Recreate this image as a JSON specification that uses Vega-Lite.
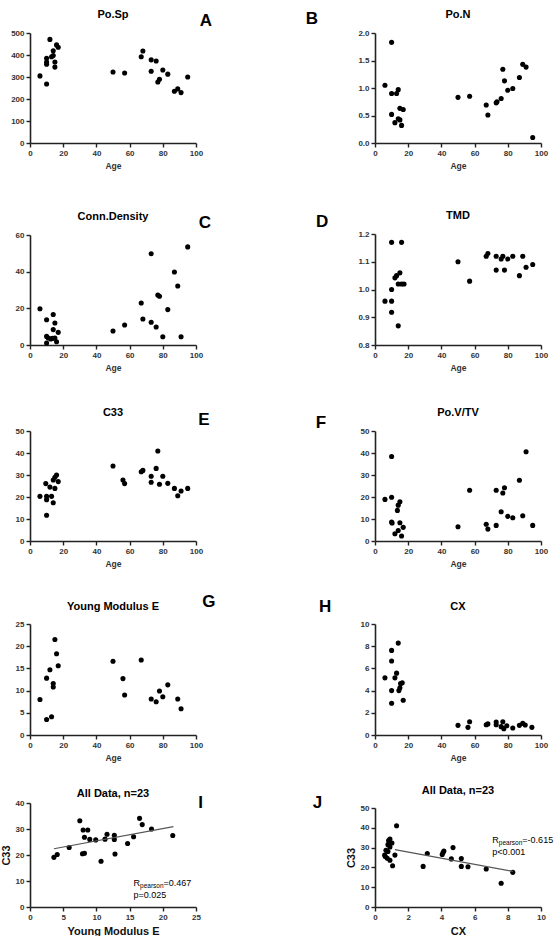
{
  "$schema": "https://vega.github.io/schema/vega-lite/v6.json",
  "background": "white",
  "padding": {"left": 0, "top": 8, "right": 0, "bottom": 0},
  "config": {
    "font": "Liberation Sans",
    "view": {"stroke": null},
    "axis": {
      "grid": false,
      "domainColor": "#222",
      "domainWidth": 1.6,
      "tickColor": "#222",
      "tickWidth": 1.4,
      "tickSize": 4,
      "tickCount": 12,
      "labelFont": "Liberation Sans",
      "labelFontSize": 8,
      "labelFontWeight": "bold",
      "labelColor": "#333",
      "labelPadding": 2,
      "labelOverlap": false,
      "labelFlush": false,
      "titleFont": "Liberation Sans",
      "titleFontSize": 8.5,
      "titleFontWeight": "bold",
      "titleColor": "#333",
      "titlePadding": 4
    },
    "circle": {"size": 26, "color": "black", "opacity": 1},
    "style": {
      "panelTitle": {"font": "Liberation Sans", "fontSize": 11, "fontWeight": "bold", "fill": "#333", "align": "center", "baseline": "middle"},
      "panelLetter": {"font": "Liberation Sans", "fontSize": 17, "fontWeight": "bold", "fill": "#111", "align": "center", "baseline": "middle"},
      "stat": {"font": "Liberation Sans", "fontSize": 9, "fill": "#555", "align": "left", "baseline": "middle"},
      "statSub": {"font": "Liberation Sans", "fontSize": 6.5, "fill": "#555", "align": "left", "baseline": "middle"}
    }
  },
  "columns": 2,
  "spacing": {"row": 68, "column": 179},
  "bounds": "flush",
  "concat": [
    {
      "width": 166, "height": 110,
      "layer": [
        {
          "data": {"values": [
            {"age": 6, "value": 305}, {"age": 10, "value": 268}, {"age": 10, "value": 358}, {"age": 10, "value": 368},
            {"age": 10, "value": 385}, {"age": 12, "value": 471}, {"age": 13, "value": 392}, {"age": 14, "value": 419},
            {"age": 14, "value": 398}, {"age": 15, "value": 368}, {"age": 15, "value": 345}, {"age": 16, "value": 446},
            {"age": 17, "value": 435}, {"age": 50, "value": 323}, {"age": 57, "value": 318}, {"age": 67, "value": 392},
            {"age": 68, "value": 418}, {"age": 73, "value": 378}, {"age": 73, "value": 326}, {"age": 76, "value": 373},
            {"age": 77, "value": 277}, {"age": 78, "value": 290}, {"age": 80, "value": 332}, {"age": 83, "value": 313},
            {"age": 87, "value": 235}, {"age": 89, "value": 246}, {"age": 91, "value": 229}, {"age": 95, "value": 300}
          ]},
          "mark": "circle",
          "encoding": {
            "x": {"field": "age", "type": "quantitative", "scale": {"domain": [0, 100], "nice": false}, "axis": {"title": "Age", "values": [0, 20, 40, 60, 80, 100], "tickCount": 12}},
            "y": {"field": "value", "type": "quantitative", "scale": {"domain": [0, 500], "nice": false}, "axis": {"title": null, "values": [0, 100, 200, 300, 400, 500], "tickCount": 12}}
          }
        },
        {"data": {"values": [{}]}, "mark": {"type": "text", "text": "Po.Sp", "style": "panelTitle"}, "encoding": {"x": {"datum": 50}, "y": {"datum": 582}}},
        {"data": {"values": [{}]}, "mark": {"type": "text", "text": "A", "style": "panelLetter"}, "encoding": {"x": {"datum": 106}, "y": {"datum": 554}}}
      ]
    },
    {
      "width": 166, "height": 110,
      "layer": [
        {
          "data": {"values": [
            {"age": 6, "value": 1.05}, {"age": 10, "value": 1.83}, {"age": 10, "value": 0.9}, {"age": 10, "value": 0.52},
            {"age": 12, "value": 0.37}, {"age": 13, "value": 0.9}, {"age": 14, "value": 0.97}, {"age": 14, "value": 0.44},
            {"age": 15, "value": 0.42}, {"age": 15, "value": 0.63}, {"age": 16, "value": 0.32}, {"age": 17, "value": 0.61},
            {"age": 50, "value": 0.83}, {"age": 57, "value": 0.85}, {"age": 67, "value": 0.69}, {"age": 68, "value": 0.51},
            {"age": 73, "value": 0.73}, {"age": 73.5, "value": 0.75}, {"age": 76, "value": 0.81}, {"age": 77, "value": 1.34},
            {"age": 78, "value": 1.13}, {"age": 80, "value": 0.96}, {"age": 83, "value": 0.99}, {"age": 87, "value": 1.19},
            {"age": 89, "value": 1.43}, {"age": 91, "value": 1.38}, {"age": 95, "value": 0.1}
          ]},
          "mark": "circle",
          "encoding": {
            "x": {"field": "age", "type": "quantitative", "scale": {"domain": [0, 100], "nice": false}, "axis": {"title": "Age", "values": [0, 20, 40, 60, 80, 100], "tickCount": 12}},
            "y": {"field": "value", "type": "quantitative", "scale": {"domain": [0, 2], "nice": false}, "axis": {"title": null, "values": [0, 0.5, 1, 1.5, 2], "format": ".1f", "tickCount": 12}}
          }
        },
        {"data": {"values": [{}]}, "mark": {"type": "text", "text": "Po.N", "style": "panelTitle"}, "encoding": {"x": {"datum": 50}, "y": {"datum": 2.33}}},
        {"data": {"values": [{}]}, "mark": {"type": "text", "text": "B", "style": "panelLetter"}, "encoding": {"x": {"datum": -38}, "y": {"datum": 2.255}}}
      ]
    },
    {
      "width": 166, "height": 134,
      "layer": [
        {
          "data": {"values": [
            {"age": 6, "value": 19.8}, {"age": 10, "value": 13.8}, {"age": 10, "value": 4.7}, {"age": 10, "value": 1.1},
            {"age": 11, "value": 3.8}, {"age": 12.5, "value": 3.3}, {"age": 13.5, "value": 3.6}, {"age": 14, "value": 16.6},
            {"age": 14, "value": 8.4}, {"age": 15, "value": 12}, {"age": 15, "value": 3.8}, {"age": 16, "value": 1.8},
            {"age": 17, "value": 6.9}, {"age": 50, "value": 7.6}, {"age": 57, "value": 10.9}, {"age": 67, "value": 22.9},
            {"age": 68, "value": 14.2}, {"age": 73, "value": 49.8}, {"age": 73, "value": 12.4}, {"age": 76, "value": 9.8},
            {"age": 77, "value": 27.3}, {"age": 78, "value": 26.6}, {"age": 80, "value": 4.5}, {"age": 83, "value": 19.3},
            {"age": 87, "value": 39.8}, {"age": 89, "value": 32.2}, {"age": 91, "value": 4.5}, {"age": 95, "value": 53.5}
          ]},
          "mark": "circle",
          "encoding": {
            "x": {"field": "age", "type": "quantitative", "scale": {"domain": [0, 100], "nice": false}, "axis": {"title": "Age", "values": [0, 20, 40, 60, 80, 100], "tickCount": 12}},
            "y": {"field": "value", "type": "quantitative", "scale": {"domain": [0, 60], "nice": false, "range": [134, 24]}, "axis": {"title": null, "values": [0, 20, 40, 60], "tickCount": 12}}
          }
        },
        {"data": {"values": [{}]}, "mark": {"type": "text", "text": "Conn.Density", "style": "panelTitle"}, "encoding": {"x": {"datum": 50}, "y": {"datum": 69.8}}},
        {"data": {"values": [{}]}, "mark": {"type": "text", "text": "C", "style": "panelLetter"}, "encoding": {"x": {"datum": 105.4}, "y": {"datum": 66.5}}}
      ]
    },
    {
      "width": 166, "height": 134,
      "layer": [
        {
          "data": {"values": [
            {"age": 6, "value": 0.958}, {"age": 10, "value": 1.17}, {"age": 10, "value": 1.0}, {"age": 10, "value": 0.958},
            {"age": 10, "value": 0.918}, {"age": 12, "value": 1.042}, {"age": 13, "value": 1.05}, {"age": 14, "value": 0.869},
            {"age": 15, "value": 1.06}, {"age": 14, "value": 1.02}, {"age": 16, "value": 1.02}, {"age": 16, "value": 1.17},
            {"age": 17.5, "value": 1.02}, {"age": 50, "value": 1.1}, {"age": 57, "value": 1.03}, {"age": 67, "value": 1.12},
            {"age": 68, "value": 1.13}, {"age": 73, "value": 1.12}, {"age": 73, "value": 1.07}, {"age": 76, "value": 1.11},
            {"age": 77, "value": 1.12}, {"age": 78, "value": 1.07}, {"age": 80, "value": 1.11}, {"age": 83, "value": 1.12},
            {"age": 87, "value": 1.05}, {"age": 89, "value": 1.12}, {"age": 91, "value": 1.08}, {"age": 95, "value": 1.09}
          ]},
          "mark": "circle",
          "encoding": {
            "x": {"field": "age", "type": "quantitative", "scale": {"domain": [0, 100], "nice": false}, "axis": {"title": "Age", "values": [0, 20, 40, 60, 80, 100], "tickCount": 12}},
            "y": {"field": "value", "type": "quantitative", "scale": {"domain": [0.8, 1.2], "nice": false, "zero": false, "range": [134, 23]}, "axis": {"title": null, "values": [0.8, 0.9, 1.0, 1.1, 1.2], "format": ".1f", "tickCount": 12}}
          }
        },
        {"data": {"values": [{}]}, "mark": {"type": "text", "text": "TMD", "style": "panelTitle"}, "encoding": {"x": {"datum": 50}, "y": {"datum": 1.2655}}},
        {"data": {"values": [{}]}, "mark": {"type": "text", "text": "D", "style": "panelLetter"}, "encoding": {"x": {"datum": -31.9}, "y": {"datum": 1.2436}}}
      ]
    },
    {
      "width": 166, "height": 128,
      "layer": [
        {
          "data": {"values": [
            {"age": 6, "value": 20.3}, {"age": 9.5, "value": 26.1}, {"age": 10, "value": 20.3}, {"age": 10, "value": 18.8},
            {"age": 10, "value": 11.7}, {"age": 12, "value": 24.5}, {"age": 13, "value": 20.3}, {"age": 14, "value": 17.4},
            {"age": 14, "value": 27.7}, {"age": 15, "value": 23.9}, {"age": 15, "value": 29}, {"age": 16, "value": 30},
            {"age": 17, "value": 27}, {"age": 50, "value": 34.1}, {"age": 56, "value": 27.7}, {"age": 57, "value": 26.1},
            {"age": 67, "value": 31.5}, {"age": 68, "value": 32.1}, {"age": 73, "value": 29.4}, {"age": 73, "value": 26.7},
            {"age": 76, "value": 33}, {"age": 77, "value": 40.9}, {"age": 78, "value": 25.8}, {"age": 80, "value": 29.4},
            {"age": 83, "value": 26.2}, {"age": 87, "value": 23.9}, {"age": 89, "value": 20.6}, {"age": 91, "value": 22.7},
            {"age": 95, "value": 23.9}
          ]},
          "mark": "circle",
          "encoding": {
            "x": {"field": "age", "type": "quantitative", "scale": {"domain": [0, 100], "nice": false}, "axis": {"title": "Age", "values": [0, 20, 40, 60, 80, 100], "tickCount": 12}},
            "y": {"field": "value", "type": "quantitative", "scale": {"domain": [0, 50], "nice": false, "range": [128, 18]}, "axis": {"title": null, "values": [0, 10, 20, 30, 40, 50], "tickCount": 12}}
          }
        },
        {"data": {"values": [{}]}, "mark": {"type": "text", "text": "C33", "style": "panelTitle"}, "encoding": {"x": {"datum": 50}, "y": {"datum": 58.2}}},
        {"data": {"values": [{}]}, "mark": {"type": "text", "text": "E", "style": "panelLetter"}, "encoding": {"x": {"datum": 104.8}, "y": {"datum": 55}}}
      ]
    },
    {
      "width": 166, "height": 128,
      "layer": [
        {
          "data": {"values": [
            {"age": 6, "value": 18.9}, {"age": 10, "value": 38.4}, {"age": 10, "value": 19.9}, {"age": 10, "value": 8.6},
            {"age": 10.3, "value": 8.2}, {"age": 12, "value": 3.3}, {"age": 13.5, "value": 13.9}, {"age": 14, "value": 16.3},
            {"age": 15, "value": 17.8}, {"age": 15, "value": 8.3}, {"age": 14, "value": 4.8}, {"age": 16, "value": 2.3},
            {"age": 17, "value": 6.2}, {"age": 50, "value": 6.5}, {"age": 57, "value": 23.1}, {"age": 67, "value": 7.6},
            {"age": 68, "value": 5.4}, {"age": 73, "value": 7.1}, {"age": 73, "value": 23.1}, {"age": 76, "value": 13.3},
            {"age": 77, "value": 21.8}, {"age": 78, "value": 24.2}, {"age": 80, "value": 11.2}, {"age": 83, "value": 10.6},
            {"age": 87, "value": 27.6}, {"age": 89, "value": 11.5}, {"age": 91, "value": 40.6}, {"age": 95, "value": 7.1}
          ]},
          "mark": "circle",
          "encoding": {
            "x": {"field": "age", "type": "quantitative", "scale": {"domain": [0, 100], "nice": false}, "axis": {"title": "Age", "values": [0, 20, 40, 60, 80, 100], "tickCount": 12}},
            "y": {"field": "value", "type": "quantitative", "scale": {"domain": [0, 50], "nice": false, "range": [128, 18]}, "axis": {"title": null, "values": [0, 10, 20, 30, 40, 50], "tickCount": 12}}
          }
        },
        {"data": {"values": [{}]}, "mark": {"type": "text", "text": "Po.V/TV", "style": "panelTitle"}, "encoding": {"x": {"datum": 50}, "y": {"datum": 58.2}}},
        {"data": {"values": [{}]}, "mark": {"type": "text", "text": "F", "style": "panelLetter"}, "encoding": {"x": {"datum": -32.5}, "y": {"datum": 53.6}}}
      ]
    },
    {
      "width": 166, "height": 126,
      "layer": [
        {
          "data": {"values": [
            {"age": 6, "value": 8.0}, {"age": 10, "value": 12.8}, {"age": 10, "value": 3.5}, {"age": 12, "value": 14.7},
            {"age": 13, "value": 4.1}, {"age": 14, "value": 11.6}, {"age": 14, "value": 10.8}, {"age": 15, "value": 21.5},
            {"age": 16, "value": 18.3}, {"age": 17, "value": 15.6}, {"age": 50, "value": 16.6}, {"age": 56, "value": 12.7},
            {"age": 57, "value": 9.0}, {"age": 67, "value": 16.9}, {"age": 73, "value": 8.1}, {"age": 76, "value": 7.5},
            {"age": 78, "value": 9.9}, {"age": 80, "value": 8.6}, {"age": 83, "value": 11.3}, {"age": 89, "value": 8.1},
            {"age": 91, "value": 5.9}
          ]},
          "mark": "circle",
          "encoding": {
            "x": {"field": "age", "type": "quantitative", "scale": {"domain": [0, 100], "nice": false}, "axis": {"title": "Age", "values": [0, 20, 40, 60, 80, 100], "tickCount": 12}},
            "y": {"field": "value", "type": "quantitative", "scale": {"domain": [0, 25], "nice": false, "range": [126, 15]}, "axis": {"title": null, "values": [0, 5, 10, 15, 20, 25], "tickCount": 12}}
          }
        },
        {"data": {"values": [{}]}, "mark": {"type": "text", "text": "Young Modulus E", "style": "panelTitle"}, "encoding": {"x": {"datum": 50}, "y": {"datum": 28.8}}},
        {"data": {"values": [{}]}, "mark": {"type": "text", "text": "G", "style": "panelLetter"}, "encoding": {"x": {"datum": 107.8}, "y": {"datum": 29.95}}}
      ]
    },
    {
      "width": 166, "height": 126,
      "layer": [
        {
          "data": {"values": [
            {"age": 6, "value": 5.15}, {"age": 10, "value": 7.62}, {"age": 10, "value": 6.66}, {"age": 10, "value": 4.0},
            {"age": 10, "value": 2.86}, {"age": 12, "value": 5.15}, {"age": 13, "value": 5.57}, {"age": 14, "value": 8.28},
            {"age": 14.4, "value": 4.0}, {"age": 15, "value": 4.25}, {"age": 15.4, "value": 4.64}, {"age": 16.4, "value": 4.7},
            {"age": 17, "value": 3.13}, {"age": 50, "value": 0.87}, {"age": 56, "value": 0.69}, {"age": 57, "value": 1.2},
            {"age": 67, "value": 0.93}, {"age": 68, "value": 1.0}, {"age": 73, "value": 1.17}, {"age": 73, "value": 0.93},
            {"age": 76, "value": 0.75}, {"age": 77, "value": 1.2}, {"age": 77.6, "value": 0.57}, {"age": 79.4, "value": 0.84},
            {"age": 83, "value": 0.63}, {"age": 87, "value": 0.87}, {"age": 89, "value": 1.05}, {"age": 90.5, "value": 0.9},
            {"age": 94.5, "value": 0.69}
          ]},
          "mark": "circle",
          "encoding": {
            "x": {"field": "age", "type": "quantitative", "scale": {"domain": [0, 100], "nice": false}, "axis": {"title": "Age", "values": [0, 20, 40, 60, 80, 100], "tickCount": 12}},
            "y": {"field": "value", "type": "quantitative", "scale": {"domain": [0, 10], "nice": false, "range": [126, 15]}, "axis": {"title": null, "values": [0, 2, 4, 6, 8, 10], "tickCount": 12}}
          }
        },
        {"data": {"values": [{}]}, "mark": {"type": "text", "text": "CX", "style": "panelTitle"}, "encoding": {"x": {"datum": 50}, "y": {"datum": 11.53}}},
        {"data": {"values": [{}]}, "mark": {"type": "text", "text": "H", "style": "panelLetter"}, "encoding": {"x": {"datum": -30.1}, "y": {"datum": 11.53}}}
      ]
    },
    {
      "width": 166, "height": 104,
      "layer": [
        {
          "data": {"values": [
            {"E": 3.6, "C33": 19.1}, {"E": 4.1, "C33": 20.2}, {"E": 5.9, "C33": 22.9}, {"E": 7.5, "C33": 33.2},
            {"E": 8.0, "C33": 29.6}, {"E": 8.7, "C33": 29.6}, {"E": 8.2, "C33": 26.8}, {"E": 7.9, "C33": 20.5},
            {"E": 8.2, "C33": 20.7}, {"E": 9.0, "C33": 26.0}, {"E": 9.9, "C33": 25.8}, {"E": 10.7, "C33": 17.6},
            {"E": 11.3, "C33": 26.1}, {"E": 11.6, "C33": 28.0}, {"E": 12.7, "C33": 27.6}, {"E": 12.7, "C33": 26.0},
            {"E": 12.8, "C33": 20.4}, {"E": 14.7, "C33": 24.4}, {"E": 15.6, "C33": 27.0}, {"E": 16.5, "C33": 34.1},
            {"E": 16.9, "C33": 31.7}, {"E": 18.3, "C33": 30.0}, {"E": 21.5, "C33": 27.5}
          ]},
          "mark": "circle",
          "encoding": {
            "x": {"field": "E", "type": "quantitative", "scale": {"domain": [0, 25], "nice": false}, "axis": {"title": "Young Modulus E", "titleFontSize": 11, "titleColor": "#111", "values": [0, 5, 10, 15, 20, 25], "tickCount": 12}},
            "y": {"field": "C33", "type": "quantitative", "scale": {"domain": [0, 40], "nice": false}, "axis": {"title": "C33", "titleFontSize": 11, "titleColor": "#111", "values": [0, 10, 20, 30, 40], "tickCount": 12}}
          }
        },
        {
          "data": {"values": [{"E": 3.6, "C33": 22.4}, {"E": 21.6, "C33": 30.9}]},
          "mark": {"type": "line", "color": "#555", "strokeWidth": 1.2},
          "encoding": {"x": {"field": "E", "type": "quantitative"}, "y": {"field": "C33", "type": "quantitative"}}
        },
        {"data": {"values": [{}]}, "mark": {"type": "text", "text": "R", "style": "stat"}, "encoding": {"x": {"datum": 15.6}, "y": {"datum": 9.2}}},
        {"data": {"values": [{}]}, "mark": {"type": "text", "text": "pearson", "style": "statSub", "dx": 6.5, "dy": 3}, "encoding": {"x": {"datum": 15.6}, "y": {"datum": 9.2}}},
        {"data": {"values": [{}]}, "mark": {"type": "text", "text": "=0.467", "style": "stat", "dx": 30}, "encoding": {"x": {"datum": 15.6}, "y": {"datum": 9.2}}},
        {"data": {"values": [{}]}, "mark": {"type": "text", "text": "p=0.025", "style": "stat"}, "encoding": {"x": {"datum": 15.6}, "y": {"datum": 4.6}}},
        {"data": {"values": [{}]}, "mark": {"type": "text", "text": "All Data, n=23", "style": "panelTitle"}, "encoding": {"x": {"datum": 12.5}, "y": {"datum": 43.5}}},
        {"data": {"values": [{}]}, "mark": {"type": "text", "text": "I", "style": "panelLetter"}, "encoding": {"x": {"datum": 25.7}, "y": {"datum": 40}}}
      ]
    },
    {
      "width": 166, "height": 104,
      "layer": [
        {
          "data": {"values": [
            {"CX": 1.3, "C33": 41}, {"CX": 0.9, "C33": 34.3}, {"CX": 0.82, "C33": 33.5}, {"CX": 1.02, "C33": 32.3},
            {"CX": 0.78, "C33": 31.5}, {"CX": 0.9, "C33": 30.3}, {"CX": 0.66, "C33": 28.6}, {"CX": 0.78, "C33": 28},
            {"CX": 0.58, "C33": 26.2}, {"CX": 1.2, "C33": 26.2}, {"CX": 0.74, "C33": 24.6}, {"CX": 0.9, "C33": 23.6},
            {"CX": 1.06, "C33": 20.8}, {"CX": 0.62, "C33": 25.5}, {"CX": 3.15, "C33": 27}, {"CX": 2.9, "C33": 20.5},
            {"CX": 4.05, "C33": 26.5}, {"CX": 4.15, "C33": 28.3}, {"CX": 4.1, "C33": 27.5}, {"CX": 4.7, "C33": 30},
            {"CX": 4.6, "C33": 24.3}, {"CX": 5.2, "C33": 24.5}, {"CX": 5.2, "C33": 20.5}, {"CX": 5.6, "C33": 20.3},
            {"CX": 6.7, "C33": 19.2}, {"CX": 8.3, "C33": 17.5}, {"CX": 7.6, "C33": 12}
          ]},
          "mark": "circle",
          "encoding": {
            "x": {"field": "CX", "type": "quantitative", "scale": {"domain": [0, 10], "nice": false}, "axis": {"title": "CX", "titleFontSize": 11, "titleColor": "#111", "values": [0, 2, 4, 6, 8, 10], "tickCount": 12}},
            "y": {"field": "C33", "type": "quantitative", "scale": {"domain": [0, 50], "nice": false, "range": [104, 5]}, "axis": {"title": "C33", "titleFontSize": 11, "titleColor": "#111", "values": [0, 10, 20, 30, 40, 50], "tickCount": 12}}
          }
        },
        {
          "data": {"values": [{"CX": 1.2, "C33": 29.0}, {"CX": 8.3, "C33": 18.0}]},
          "mark": {"type": "line", "color": "#555", "strokeWidth": 1.2},
          "encoding": {"x": {"field": "CX", "type": "quantitative"}, "y": {"field": "C33", "type": "quantitative"}}
        },
        {"data": {"values": [{}]}, "mark": {"type": "text", "text": "R", "style": "stat"}, "encoding": {"x": {"datum": 7.07}, "y": {"datum": 33.8}}},
        {"data": {"values": [{}]}, "mark": {"type": "text", "text": "pearson", "style": "statSub", "dx": 6.5, "dy": 3}, "encoding": {"x": {"datum": 7.07}, "y": {"datum": 33.8}}},
        {"data": {"values": [{}]}, "mark": {"type": "text", "text": "=-0.615", "style": "stat", "dx": 30}, "encoding": {"x": {"datum": 7.07}, "y": {"datum": 33.8}}},
        {"data": {"values": [{}]}, "mark": {"type": "text", "text": "p<0.001", "style": "stat"}, "encoding": {"x": {"datum": 7.07}, "y": {"datum": 27.8}}},
        {"data": {"values": [{}]}, "mark": {"type": "text", "text": "All Data, n=23", "style": "panelTitle"}, "encoding": {"x": {"datum": 5}, "y": {"datum": 58.6}}},
        {"data": {"values": [{}]}, "mark": {"type": "text", "text": "J", "style": "panelLetter"}, "encoding": {"x": {"datum": -3.47}, "y": {"datum": 52.5}}}
      ]
    }
  ]
}
